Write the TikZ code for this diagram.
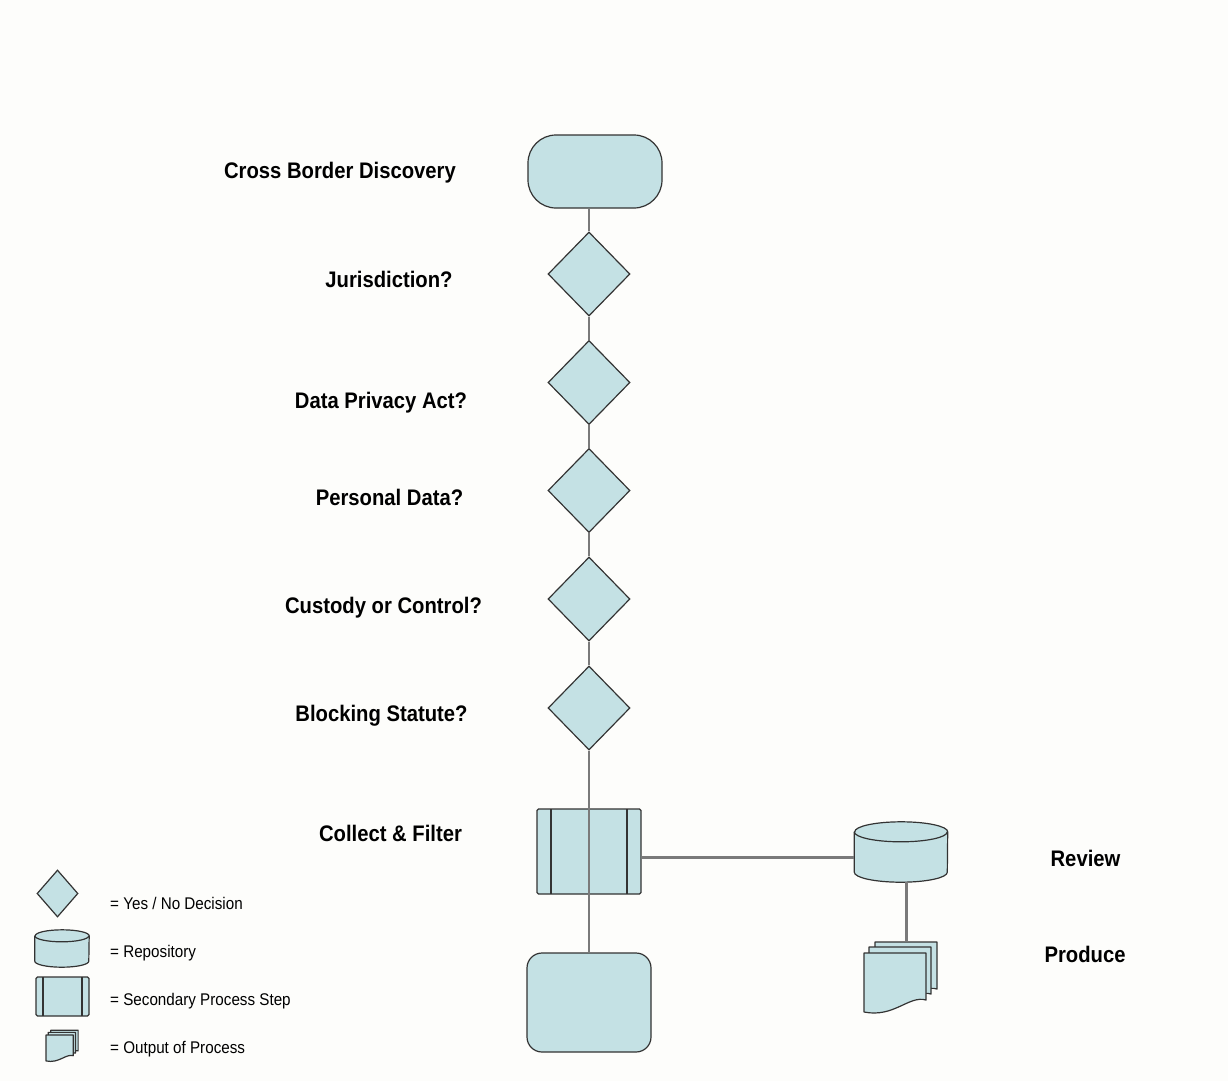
\documentclass[tikz,border=0pt]{standalone}
\usepackage{fontspec}
\newfontfamily\lblfont{Liberation Sans}[FakeStretch=0.9]
\usetikzlibrary{shapes.geometric}
\definecolor{boxfill}{HTML}{C4E1E4}
\definecolor{edge}{HTML}{333333}
\definecolor{wire}{HTML}{7A7A7A}
\definecolor{paper}{HTML}{FDFDFB}

\newcommand\multidoc[3]{%
    \begin{scope}[shift={(#1,#2)}, scale=#3]
        \foreach \d/\e in {11/11,5/6,0/0}
            \draw[sheet] (\d,-\e) -- ++(62,0) -- ++(0,47)
                .. controls ++(-17,-5) and ++(30,6) .. ++(-62,12) -- cycle;
    \end{scope}
}
\newcommand\repodraw[3]{%
    \draw[sheet] ([yshift=-#3]#1.north west) -- ([yshift=#3]#1.south west)
        arc[start angle=180, end angle=0, x radius=#2, y radius=#3]
        -- ([yshift=-#3]#1.north east)
        arc[start angle=0, end angle=-180, x radius=#2, y radius=#3] -- cycle;
    \draw[sheet, fill=none] ([yshift=-#3]#1.north west)
        arc[start angle=180, end angle=0, x radius=#2, y radius=#3];
}

\begin{document}
\begin{tikzpicture}[
    x=1pt, y=-1pt,
    all/.style={draw=edge, fill=boxfill, line width=1.2pt, inner sep=0pt},
    term/.style={all, rectangle, rounded corners=28pt, minimum width=134pt, minimum height=73pt},
    stopbox/.style={all, rectangle, rounded corners=15pt, minimum width=124pt, minimum height=99pt},
    dec/.style={all, diamond, minimum width=82pt, minimum height=84pt},
    subproc/.style={all, rectangle, rounded corners=1.5pt,
        path picture={
            \draw[edge, line width=1.2pt] ([xshift=#1]path picture bounding box.north west) -- ([xshift=#1]path picture bounding box.south west);
            \draw[edge, line width=1.2pt] ([xshift=-#1]path picture bounding box.north east) -- ([xshift=-#1]path picture bounding box.south east);
        }},
    repo/.style={inner sep=0pt, rectangle},
    sheet/.style={draw=edge, fill=boxfill, line width=1.2pt, line join=round},
    wire/.style={draw=wire, line width=2.2pt},
    lbl/.style={inner sep=0pt, anchor=base, font=\lblfont\bfseries\fontsize{22.5}{26}\selectfont},
    key/.style={inner sep=0pt, anchor=base west, font=\lblfont\fontsize{16.9}{20}\selectfont},
]
    \fill[paper] (0,0) rectangle (1228,1081);

    \node [term] (start) at (595,171.5) {};
    \node [dec] (d1) at (589,274) {};
    \node [dec] (d2) at (589,382.5) {};
    \node [dec] (d3) at (589,490.5) {};
    \node [dec] (d4) at (589,599) {};
    \node [dec] (d5) at (589,708) {};
    \node [subproc=14pt, minimum width=104pt, minimum height=85pt] (cf) at (589,851.5) {};
    \node [stopbox] (stop) at (589,1002.5) {};
    \node [repo, minimum width=93pt, minimum height=60pt] (rv) at (901,852) {};
    \repodraw{rv}{46.5}{10}
    \node [inner sep=0pt, minimum width=73pt, minimum height=74pt] (prod) at (900.5,978) {};
    \multidoc{864}{953}{1}

    \draw[wire] (d1.north) -- (d1.north |- start.south);
    \foreach \a/\b in {d1/d2,d2/d3,d3/d4,d4/d5}
        \draw[wire] (\a.south) -- (\b.north);
    \draw[wire] (d5.south) -- (stop.north);
    \draw[wire] ([yshift=-6pt]cf.east) -- ([yshift=-6pt]cf.east -| rv.west);
    \draw[wire] ([xshift=6pt]prod.north |- rv.south) -- ([xshift=6pt]prod.north);

    \node [lbl] (l0) at (340,178) {Cross Border Discovery};
    \node [lbl] (l1) at (389,287) {Jurisdiction?};
    \node [lbl] (l2) at (381,408) {Data Privacy Act?};
    \node [lbl] (l3) at (389.5,505) {Personal Data?};
    \node [lbl] (l4) at (383.5,613) {Custody or Control?};
    \node [lbl] (l5) at (381.5,721) {Blocking Statute?};
    \node [lbl] (l6) at (390.5,841) {Collect \& Filter};
    \node [lbl] (l7) at (1085.5,866) {Review};
    \node [lbl] (l8) at (1085,962) {Produce};

    \node [dec, minimum width=41pt, minimum height=47pt] (kd) at (57.5,893.5) {};
    \node [repo, minimum width=54pt, minimum height=37pt] (kr) at (62,948.5) {};
    \repodraw{kr}{27}{6}
    \node [subproc=7pt, minimum width=53pt, minimum height=39pt] (ks) at (62.5,996.5) {};
    \multidoc{46}{1035}{0.44}

    \node [key] (t1) at (110,909) {= Yes / No Decision};
    \node [key] (t2) at (110,957) {= Repository};
    \node [key] (t3) at (110,1005) {= Secondary Process Step};
    \node [key] (t4) at (110,1053) {= Output of Process};
\end{tikzpicture}
\end{document}
